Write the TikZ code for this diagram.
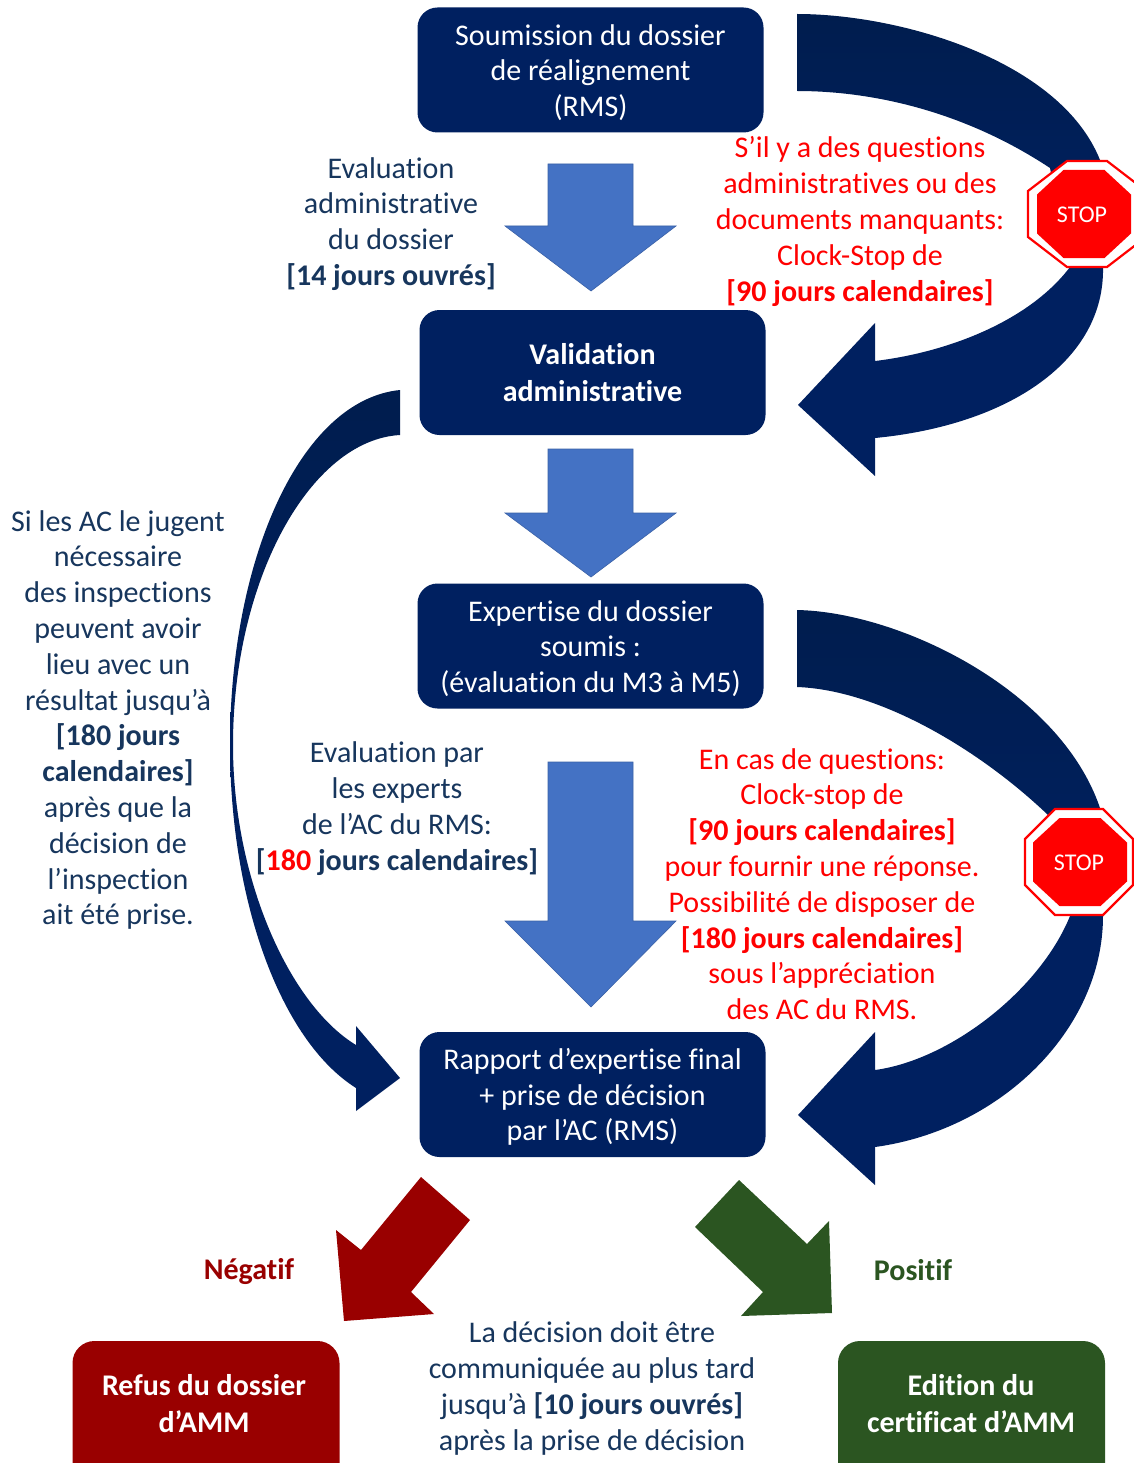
\documentclass[tikz,border=0pt]{standalone}
\usepackage{fontspec}
\setmainfont[Ligatures=NoCommon]{Carlito}
\definecolor{navy}{HTML}{002060}
\definecolor{navydark}{HTML}{001D4E}
\definecolor{navytxt}{HTML}{17365D}
\definecolor{blockblue}{HTML}{4472C4}
\definecolor{darkred}{HTML}{990000}
\definecolor{darkgreen}{HTML}{2B5521}
\definecolor{stopred}{HTML}{FF0000}
\tikzset{
  x=1pt,y=-1pt,
  every node/.style={inner sep=0pt,outer sep=0pt},
  txt/.style={align=center,font=\fontsize{30}{35.8}\selectfont},
  boldtxt/.style={align=center,font=\fontsize{30}{36.8}\selectfont\bfseries},
  navylabel/.style={txt,text=navytxt},
  redlabel/.style={txt,text=stopred},
  bx/.style={rounded corners=20pt,fill=navy,text=white,txt,minimum width=346pt,minimum height=125pt},
  endbx/.style={rounded corners=22pt,text=white,txt,minimum width=267pt,minimum height=150pt},
  curvearrow/.style={top color=navydark,bottom color=navy,middle color=navy},
  downarrow/.style={fill=blockblue,draw=blockblue!85!black,line width=0.6pt},
  stopout/.style={fill=white,draw=stopred,line width=2.2pt,line join=miter},
  stopin/.style={fill=stopred},
  stoptxt/.style={text=white,font=\fontsize{24}{24}\selectfont},
}
\newcommand{\blockdown}[3]{\path[downarrow] (548,#1)--(633,#1)--(633,#2)--(676,#2)--(591,#3)--(505,#2)--(548,#2)--cycle;}
\newcommand{\pushdown}{\rule{0pt}{26pt}}
\begin{document}
\begin{tikzpicture}
\clip (0,0) rectangle (1134,1463);
\fill[white] (0,0) rectangle (1134,1463);
% curved arrow, top right
\path[curvearrow] (797,14) .. controls (900,14) and (1060,60) .. (1100,160)
  -- (1103,267) .. controls (1105,360) and (1010,425) .. (875,438)
  -- (875,476) -- (798,405) -- (875,323) -- (875,361)
  .. controls (950,352) and (1030,320) .. (1070,267)
  -- (1050,168) .. controls (970,115) and (880,91) .. (797,91) -- cycle;
% curved arrow, second right
\path[curvearrow] (797,610) .. controls (900,612) and (1060,690) .. (1100,808)
  -- (1103,916) .. controls (1103,1030) and (1000,1130) .. (875,1147)
  -- (875,1185) -- (798,1115) -- (875,1032) -- (875,1070)
  .. controls (950,1060) and (1040,990) .. (1070,916)
  -- (1048,815) .. controls (980,750) and (880,690) .. (797,687) -- cycle;
% curved arrow, left
\path[curvearrow] (400,390) .. controls (300,400) and (230,560) .. (230,745)
  .. controls (230,900) and (280,1040) .. (356,1088)
  -- (356,1111) -- (400,1078) -- (356,1026) -- (356,1045)
  .. controls (290,1005) and (233,880) .. (233,745)
  .. controls (233,580) and (310,440) .. (400,435) -- cycle;
% block arrows
\blockdown{164}{226}{291}
\blockdown{449}{513}{577}
\blockdown{762}{921}{1007}
\fill[darkred] (421,1177)--(470,1220)--(411,1292)--(434,1314)--(344,1321)--(336,1230)--(361,1250)--cycle;
\fill[darkgreen] (739,1180)--(695,1227)--(763,1292)--(741,1316)--(832,1313)--(829,1221)--(807,1244)--cycle;
% stop signs: centre y, outer centre x, half width, half top edge; inner centre x
\foreach \cy/\cx/\hw/\ht/\ix in {214/1087/59/20/1084,862/1079/54/24/1080}{
  \path[stopout] (\cx-\hw,\cy-23)--(\cx-\ht,\cy-53)--(\cx+\ht,\cy-53)--(\cx+\hw,\cy-23)--(\cx+\hw,\cy+23)--(\cx+\ht,\cy+53)--(\cx-\ht,\cy+53)--(\cx-\hw,\cy+23)--cycle;
  \path[stopin] (\ix-47,\cy-19.5)--(\ix-20.5,\cy-44)--(\ix+20.5,\cy-44)--(\ix+47,\cy-19.5)--(\ix+47,\cy+19.5)--(\ix+20.5,\cy+44)--(\ix-20.5,\cy+44)--(\ix-47,\cy+19.5)--cycle;
}
\node[stoptxt] (stop1) at (1082,215) {STOP};
\node[stoptxt] (stop2) at (1079,863) {STOP};
% boxes
\node[bx] (soumission) at (590.5,70) {\pushdown Soumission du dossier\\de réalignement\\(RMS)};
\node[bx,boldtxt] (validation) at (592.5,372.5) {Validation\\administrative};
\node[bx] (expertise) at (590.5,646) {\pushdown Expertise du dossier\\soumis :\\(évaluation du M3 à M5)};
\node[bx] (rapport) at (592.5,1094.5) {\pushdown Rapport d’expertise final\\+ prise de décision\\par l’AC (RMS)};
\node[endbx,fill=darkred] (refus) at (206,1416) {};
\node[endbx,fill=darkgreen] (edition) at (971.5,1416) {};
\node[boldtxt,text=white] (refustxt) at (204,1403.5) {Refus du dossier\\d’AMM};
\node[boldtxt,text=white] (editiontxt) at (971,1403.5) {Edition du\\certificat d’AMM};
% labels
\node[navylabel] (eval1) at (391,224) {Evaluation\\administrative\\du dossier\\\textbf{[14 jours ouvrés]}};
\node[redlabel] (red1) at (860,221.5) {S’il y a des questions\\administratives ou des\\documents manquants:\\Clock-Stop de\\\textbf{[90 jours calendaires]}};
\node[navylabel] (inspect) at (118,720) {Si les AC le jugent\\nécessaire\\des inspections\\peuvent avoir\\lieu avec un\\résultat jusqu’à\\\textbf{[180 jours}\\\textbf{calendaires]}\\après que la\\décision de\\l’inspection\\ait été prise.};
\node[navylabel] (eval2) at (397,808.5) {Evaluation par\\les experts\\de l’AC du RMS:\\\textbf{[{\color{stopred}180} jours calendaires]}};
\node[redlabel] (red2) at (822,884) {En cas de questions:\\Clock-stop de\\\textbf{[90 jours calendaires]}\\pour fournir une réponse.\\Possibilité de disposer de\\\textbf{[180 jours calendaires]}\\sous l’appréciation\\des AC du RMS.};
\node[navylabel] (decision) at (592,1388.5) {La décision doit être\\communiquée au plus tard\\jusqu’à \textbf{[10 jours ouvrés]}\\après la prise de décision};
\node[boldtxt,text=darkred] (negatif) at (249,1271) {Négatif};
\node[boldtxt,text=darkgreen] (positif) at (913,1270) {Positif};
\end{tikzpicture}
\end{document}
